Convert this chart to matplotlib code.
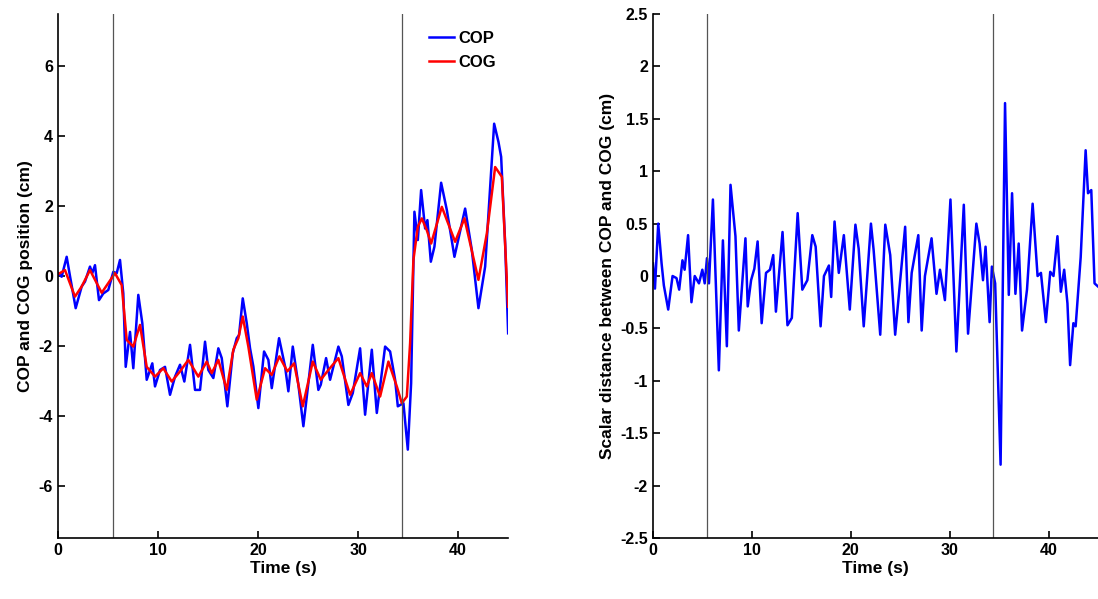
import matplotlib
matplotlib.use("Agg")
import matplotlib.pyplot as plt

plt.rcParams['font.family'] = ['Liberation Sans', 'DejaVu Sans']
plt.rcParams['font.weight'] = 'bold'
plt.rcParams['axes.unicode_minus'] = False

# left panel: COP / COG position (time in s, value in cm)
t_cop = [0, 0.37, 0.87, 1.2, 1.77, 2.37, 2.7, 3.2, 3.43, 3.7, 4.1, 4.53, 5.03, 5.53, 5.87,
         6.2, 6.53, 6.77, 7.2, 7.53, 8.03, 8.43, 8.87, 9.43, 9.7, 10.2, 10.7, 11.2, 11.7,
         12.2, 12.63, 13.2, 13.7, 14.2, 14.7, 15.03, 15.53, 16.03, 16.37, 16.93, 17.47,
         17.87, 18.1, 18.47, 18.87, 19.2, 19.53, 20.03, 20.6, 21.03, 21.37, 22.1, 22.7,
         23.03, 23.47, 24.03, 24.53, 25.47, 26.03, 26.27, 26.8, 27.2, 28.03, 28.37, 29.03,
         29.47, 30.2, 30.7, 31.37, 31.87, 32.7, 33.2, 33.7, 33.97, 34.53, 34.97, 35.3,
         35.63, 35.97, 36.3, 36.7, 36.93, 37.27, 37.63, 38.3, 38.87, 39.63, 40.7, 41.37,
         42.03, 42.7, 43.6, 44.03, 44.3, 44.7, 45.0]
cop = [0.08, -0.02, 0.55, 0.0, -0.92, -0.3, -0.16, 0.27, 0.08, 0.31, -0.69, -0.5, -0.4,
       0.12, 0.08, 0.46, -0.5, -2.6, -1.6, -2.64, -0.54, -1.35, -2.97, -2.5, -3.16, -2.69,
       -2.6, -3.4, -2.88, -2.54, -3.02, -1.97, -3.26, -3.26, -1.88, -2.69, -2.92, -2.07,
       -2.35, -3.73, -2.21, -1.78, -1.69, -0.64, -1.35, -2.07, -2.59, -3.78, -2.16, -2.4,
       -3.21, -1.78, -2.59, -3.3, -2.02, -3.11, -4.3, -1.97, -3.26, -3.11, -2.35, -2.97,
       -2.02, -2.3, -3.69, -3.35, -2.07, -3.97, -2.11, -3.92, -2.02, -2.16, -2.97, -3.73,
       -3.64, -4.97, -3.07, 1.84, 1.03, 2.46, 1.36, 1.6, 0.41, 0.84, 2.67, 1.89, 0.55,
       1.93, 0.74, -0.92, 0.27, 4.36, 3.84, 3.41, 0.93, -1.64]

t_cog = [0, 0.7, 1.7, 2.37, 3.2, 4.37, 5.7, 6.37, 6.87, 7.53, 8.2, 8.87, 9.7, 10.53,
         11.37, 12.2, 13.03, 14.03, 14.87, 15.37, 16.03, 16.87, 17.53, 18.03, 18.47, 19.03,
         19.87, 20.7, 21.37, 22.13, 22.93, 23.6, 24.47, 25.47, 26.27, 27.03, 28.03, 29.2,
         30.2, 30.87, 31.37, 32.2, 33.03, 33.87, 34.37, 34.87, 35.2, 35.53, 35.97, 36.37,
         36.87, 37.3, 38.37, 39.7, 40.63, 42.03, 42.87, 43.7, 44.37, 45.0]
cog = [0.05, 0.17, -0.59, -0.3, 0.17, -0.48, 0.08, -0.26, -1.83, -2.02, -1.4, -2.6,
       -2.88, -2.64, -3.02, -2.73, -2.4, -2.88, -2.45, -2.78, -2.4, -3.26, -2.11, -1.78,
       -1.16, -2.02, -3.54, -2.64, -2.83, -2.3, -2.73, -2.5, -3.73, -2.45, -2.97, -2.69,
       -2.35, -3.4, -2.78, -3.16, -2.78, -3.45, -2.45, -3.16, -3.64, -3.45, -1.92, 0.46,
       1.41, 1.65, 1.31, 0.93, 1.98, 0.98, 1.65, -0.11, 1.22, 3.12, 2.84, -0.88]

# right panel: scalar distance between COP and COG (cm)
t_dist = [0, 0.2, 0.53, 0.87, 1.1, 1.54, 1.98, 2.38, 2.65, 2.98, 3.2, 3.55, 3.89, 4.22,
          4.65, 4.99, 5.23, 5.46, 5.66, 6.06, 6.66, 7.07, 7.47, 7.84, 8.34, 8.68, 9.35,
          9.58, 9.92, 10.25, 10.58, 10.99, 11.43, 11.83, 12.16, 12.43, 13.1, 13.6, 14.04,
          14.63, 15.1, 15.61, 16.11, 16.45, 16.95, 17.29, 17.79, 18.02, 18.36, 18.79, 19.3,
          19.9, 20.47, 20.8, 21.31, 22.04, 22.31, 22.98, 23.49, 23.99, 24.49, 25.0, 25.5,
          25.83, 26.16, 26.83, 27.17, 27.5, 28.17, 28.67, 29.02, 29.52, 30.08, 30.68, 31.43,
          31.86, 32.7, 33.03, 33.37, 33.63, 34.04, 34.27, 34.6, 35.15, 35.6, 35.98, 36.31,
          36.65, 36.98, 37.32, 37.82, 38.39, 38.89, 39.23, 39.73, 40.17, 40.5, 40.9, 41.24,
          41.58, 41.91, 42.18, 42.51, 42.74, 43.25, 43.75, 43.99, 44.32, 44.65, 45.0]
dist = [0.12, -0.12, 0.5, 0.12, -0.09, -0.32, 0.0, -0.02, -0.13, 0.15, 0.06, 0.39, -0.25,
        0.0, -0.07, 0.06, -0.07, 0.17, -0.07, 0.73, -0.9, 0.34, -0.67, 0.87, 0.38, -0.52,
        0.36, -0.29, -0.04, 0.07, 0.33, -0.45, 0.03, 0.06, 0.2, -0.34, 0.42, -0.47, -0.4,
        0.6, -0.13, -0.04, 0.39, 0.28, -0.48, 0.0, 0.1, -0.2, 0.52, 0.03, 0.39, -0.32, 0.49,
        0.26, -0.48, 0.5, 0.25, -0.56, 0.49, 0.2, -0.56, -0.04, 0.47, -0.44, 0.03, 0.39,
        -0.52, 0.0, 0.36, -0.17, 0.06, -0.23, 0.73, -0.72, 0.68, -0.55, 0.5, 0.31, -0.04,
        0.28, -0.44, 0.09, -0.07, -1.8, 1.65, -0.18, 0.79, -0.17, 0.31, -0.52, -0.13, 0.69,
        0.0, 0.03, -0.44, 0.04, 0.0, 0.38, -0.15, 0.06, -0.26, -0.85, -0.45, -0.48, 0.18,
        1.2, 0.79, 0.82, -0.07, -0.1]

events = [5.5, 34.4]

fig = plt.figure(figsize=(10.98, 5.99), dpi=100)
ax1 = fig.add_axes([0.0528, 0.1018, 0.41, 0.8748])
ax2 = fig.add_axes([0.5947, 0.1018, 0.4053, 0.8748])

ax1.plot(t_cop, cop, color='#0000ff', lw=1.8, label='COP', solid_joinstyle='round')
ax1.plot(t_cog, cog, color='#ff0000', lw=1.8, label='COG', solid_joinstyle='round')
ax2.plot(t_dist, dist, color='#0000ff', lw=1.8, solid_joinstyle='round')

for ax in (ax1, ax2):
    for e in events:
        ax.axvline(e, color='#555555', lw=0.9)
    ax.set_xlim(0, 45)
    ax.set_xticks([0, 10, 20, 30, 40])
    ax.spines['top'].set_visible(False)
    ax.spines['right'].set_visible(False)
    ax.spines['left'].set_linewidth(1.2)
    ax.spines['bottom'].set_linewidth(1.2)
    ax.tick_params(direction='in', labelsize=11.5, length=5, width=1.2)
    ax.set_xlabel('Time (s)', fontsize=12.5, fontweight='bold', labelpad=2)

ax1.set_ylim(-7.5, 7.5)
ax1.set_yticks([-6, -4, -2, 0, 2, 4, 6])
ax1.set_ylabel('COP and COG position (cm)', fontsize=12.5, fontweight='bold', labelpad=4)
ax1.legend(loc='upper right', frameon=False, fontsize=12, handlelength=1.5,
           handletextpad=0.3, labelspacing=0.55, borderaxespad=0.3,
           bbox_to_anchor=(1.0, 0.99))

ax2.set_ylim(-2.5, 2.5)
ax2.set_yticks([-2.5, -2, -1.5, -1, -0.5, 0, 0.5, 1, 1.5, 2, 2.5])
ax2.set_yticklabels(['-2.5', '-2', '-1.5', '-1', '-0.5', '0', '0.5', '1', '1.5', '2', '2.5'])
ax2.set_ylabel('Scalar distance between COP and COG (cm)', fontsize=12.5,
               fontweight='bold', labelpad=4)

fig.savefig('out.png', dpi=100, facecolor='white')
